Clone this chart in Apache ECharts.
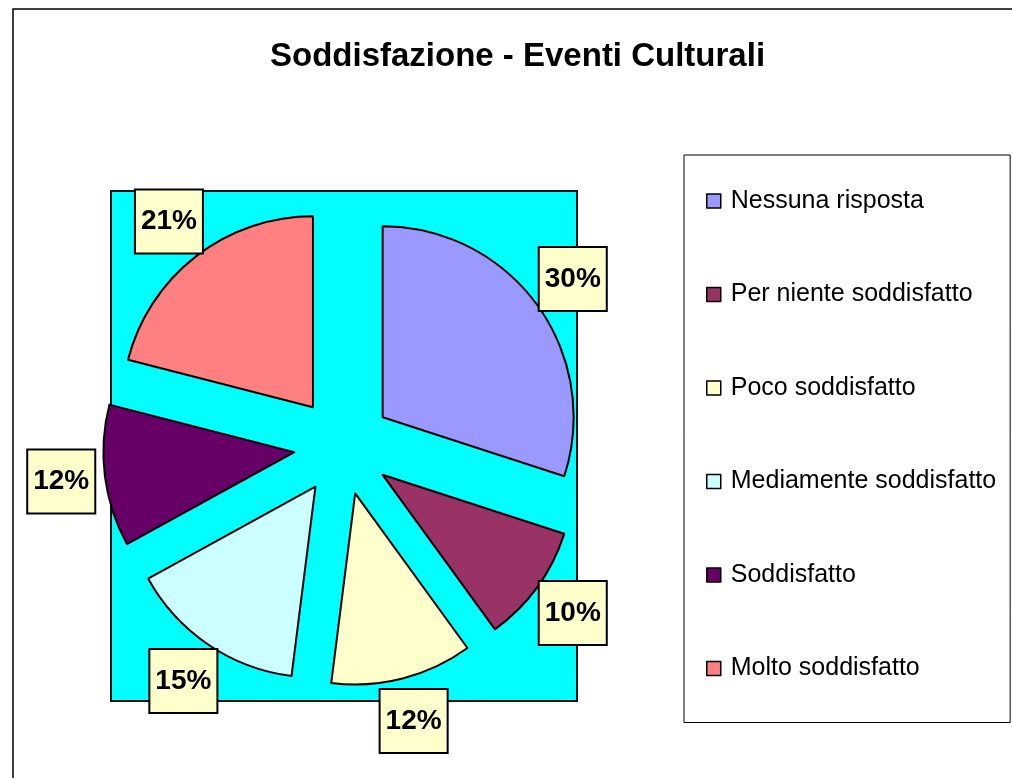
<!DOCTYPE html>
<html>
<head>
<meta charset="utf-8">
<script src="https://cdn.jsdelivr.net/npm/echarts@6/dist/echarts.min.js"></script>
<style>
  html, body { margin: 0; padding: 0; background: #fff; }
  #chart { width: 1012px; height: 778px; }
</style>
</head>
<body>
<div id="chart"></div>
<script>
var titleText = "Soddisfazione - Eventi Culturali";
var categories = ["Nessuna risposta", "Per niente soddisfatto", "Poco soddisfatto", "Mediamente soddisfatto", "Soddisfatto", "Molto soddisfatto"];
var values = [30, 10, 12, 15, 12, 21];
var colors = ["#9999FF", "#993366", "#FFFFCC", "#CCFFFF", "#660066", "#FF8080"];

var font = '"Liberation Sans", Arial, Helvetica, sans-serif';

function buildData() {
    var out = [];
    for (var i = 0; i < categories.length; i++) {
        out.push({ name: categories[i], value: values[i], selected: true });
    }
    return out;
}

var myChart = echarts.init(document.getElementById("chart"));
var option = {
    animation: false,
    color: colors,
    title: {
        text: titleText,
        left: 265,
        top: 35,
        textStyle: {
            fontFamily: font,
            fontSize: 33,
            fontWeight: "bold",
            color: "#000"
        }
    },
    graphic: [
        {   // outer frame
            type: "rect",
            z: -10,
            shape: { x: 13, y: 9, width: 1100, height: 900 },
            style: { fill: "#fff", stroke: "#000", lineWidth: 1.5 }
        },
        {   // plot area
            type: "rect",
            z: -5,
            shape: { x: 111, y: 191, width: 466, height: 510 },
            style: { fill: "#00FFFF", stroke: "#111", lineWidth: 2 }
        }
    ],
    legend: {
        orient: "vertical",
        left: 684,
        top: 155,
        padding: [32, 14, 40, 22],
        itemGap: 65.5,
        itemWidth: 14,
        itemHeight: 14,
        icon: "rect",
        backgroundColor: "#fff",
        borderColor: "#000",
        borderWidth: 1,
        itemStyle: { borderColor: "#000", borderWidth: 1.5 },
        textStyle: {
            fontFamily: font,
            fontSize: 25,
            lineHeight: 28,
            color: "#000",
            padding: [0, 0, 0, 5]
        },
        data: categories
    },
    series: [{
        name: titleText,
        type: "pie",
        center: [343, 446],
        radius: 191,
        startAngle: 90,
        clockwise: true,
        selectedMode: "multiple",
        selectedOffset: 49,
        avoidLabelOverlap: false,
        itemStyle: { borderColor: "#000", borderWidth: 2 },
        select: { itemStyle: { borderColor: "#000", borderWidth: 2 } },
        emphasis: { disabled: true },
        label: {
            show: true,
            position: "outside",
            formatter: "{c}%",
            fontFamily: font,
            fontSize: 28,
            fontWeight: "bold",
            color: "#000",
            lineHeight: 28,
            backgroundColor: "#FFFFCC",
            borderColor: "#000",
            borderWidth: 2,
            padding: [17, 5, 17, 5],
            distanceToLabelLine: 0
        },
        labelLine: { show: false, length: 44, length2: 0 },
        labelLayout: function () {
            return { align: "center", verticalAlign: "middle" };
        },
        data: buildData()
    }]
};

option && myChart.setOption(option);
</script>
</body>
</html>
